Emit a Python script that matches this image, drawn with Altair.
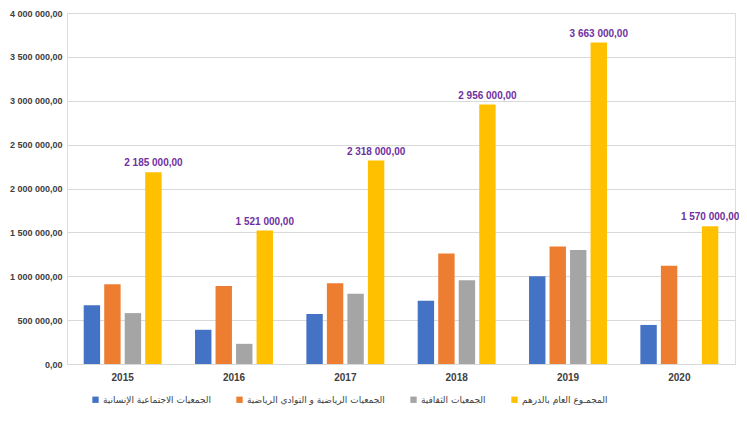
import altair as alt
import pandas as pd

years = ["2015", "2016", "2017", "2018", "2019", "2020"]
series = [
    "الجمعيات الاجتماعية الإنسانية",
    "الجمعيات الرياضية و التوادي الرياضية",
    "الجمعيات الثقافية",
    "المجمـوع العام بالدرهم",
]
social = [670000, 390000, 570000, 720000, 1000000, 445000]
sports = [910000, 890000, 920000, 1260000, 1340000, 1120000]
culture = [580000, 230000, 800000, 955000, 1300000, 0]
total = [2185000, 1521000, 2318000, 2956000, 3663000, 1570000]
colors = ["#4472C4", "#ED7D31", "#A5A5A5", "#FFC000"]

rows = []
for name, vals in zip(series, [social, sports, culture, total]):
    for y, v in zip(years, vals):
        rows.append({"year": y, "series": name, "value": v})
df = pd.DataFrame(rows)

x = alt.X("year:N", title=None,
          scale=alt.Scale(paddingInner=0.3, paddingOuter=0.15),
          axis=alt.Axis(labelAngle=0, ticks=False, domainColor="#d9d9d9",
                        labelFontWeight="bold", labelFontSize=10, labelColor="#404040",
                        labelPadding=8, labelFont="Liberation Sans"))
xo = alt.XOffset("series:N", sort=series,
                 scale=alt.Scale(domain=series, paddingInner=0.2, paddingOuter=0))
y = alt.Y("value:Q", title=None,
          scale=alt.Scale(domain=[0, 4000000]),
          axis=alt.Axis(values=list(range(0, 4000001, 500000)), format=",.2f",
                        ticks=False, domain=False, gridColor="#d9d9d9",
                        labelFontSize=9, labelFontWeight="bold", labelColor="#404040",
                        labelPadding=5, labelFont="Liberation Sans"))

bars = alt.Chart(df).mark_bar().encode(
    x=x, xOffset=xo, y=y,
    color=alt.Color("series:N", sort=series,
                    scale=alt.Scale(domain=series, range=colors),
                    legend=alt.Legend(title=None, orient="none", direction="horizontal",
                                      legendX=24, legendY=382, symbolType="square",
                                      symbolSize=40, symbolStrokeWidth=0,
                                      labelFontSize=9, labelColor="#404040",
                                      labelFont="DejaVu Sans", columnPadding=24,
                                      labelOffset=3, labelLimit=300)),
)

labels = alt.Chart(df).transform_filter(
    alt.datum.series == series[3]
).mark_text(dy=-9, color="#7030A0", fontWeight="bold", fontSize=10,
            font="Liberation Sans").encode(
    x=x, xOffset=xo, y=y,
    text=alt.Text("value:Q", format=",.2f"),
)

chart = alt.layer(bars, labels).properties(
    width=668, height=351,
    autosize=alt.AutoSizeParams(type="none"),
    padding={"left": 59, "top": 5, "right": 4, "bottom": 50},
).configure_view(stroke=None).configure(
    locale={"number": {"decimal": ",", "thousands": " ", "grouping": [3],
                       "currency": ["", ""]}}
)

chart.save("out.html", embed_options={"renderer": "svg", "actions": False})
